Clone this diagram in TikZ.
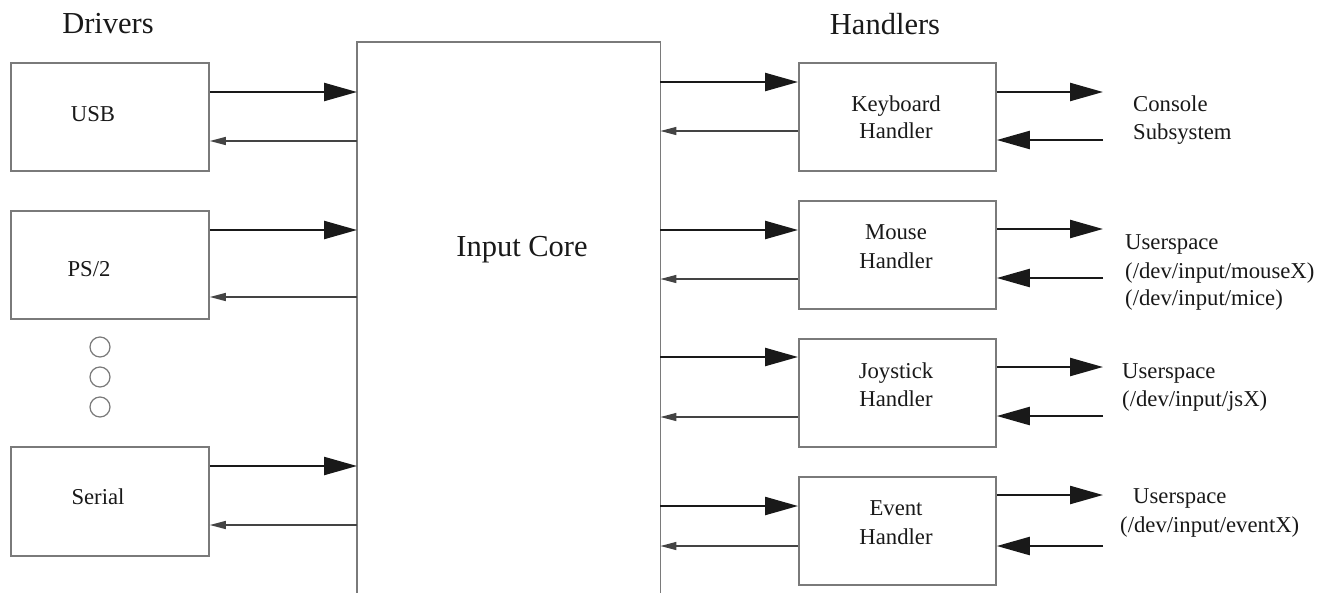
\documentclass[tikz,border=0pt]{standalone}
\usepackage{fontspec}
\setmainfont{Liberation Serif}
\usetikzlibrary{arrows.meta}
\definecolor{boxgray}{HTML}{7A7A7A}
\definecolor{thingray}{HTML}{444444}
\begin{document}
\begin{tikzpicture}[x=1pt,y=-1pt,
  blk/.style={draw=boxgray, line width=1.8pt, fill=none, inner sep=0pt, anchor=north west},
  lbl/.style={font=\fontsize{22.7}{28}\selectfont, text height=15pt, text depth=5pt, inner sep=0pt, text=black!90},
  hdr/.style={font=\fontsize{30.5}{36}\selectfont, inner sep=0pt, text=black!90},
  fwd/.style={line width=2.3pt, draw=black!90, -{Triangle[length=33pt,width=18pt]}},
  bck/.style={line width=1.4pt, draw=thingray, -{Triangle[length=16pt,width=8pt]}},
  dot/.style={circle, draw=boxgray, line width=1.2pt, minimum size=20pt, inner sep=0pt}]
\useasboundingbox (0,0) rectangle (1332,592);
\fill[white] (0,0) rectangle (1332,592);

% headers
\node[hdr] (hdrv) at (108,24) {Drivers};
\node[hdr] (hhnd) at (885,24) {Handlers};

% input core (open at bottom)
\node[minimum width=303pt, minimum height=552pt, inner sep=0pt, anchor=north west] (core) at (357,42) {};
\draw[draw=boxgray, line width=1.8pt] (core.south west) -- (core.north west) -- (core.north east) -- (core.south east);
\node[hdr] (coret) at (522,250) {Input Core};

% driver boxes
\node[blk, minimum width=198pt, minimum height=108pt] (usb) at (10,62) {};
\node[blk, minimum width=198pt, minimum height=108pt] (ps2) at (10,210) {};
\node[blk, minimum width=198pt, minimum height=109pt] (ser) at (10,446) {};
\node[lbl] (usbt) at (93,116) {USB};
\node[lbl] (ps2t) at (89,271) {PS/2};
\node[lbl] (sert) at (98,499) {Serial};

\node[dot] (d1) at (100,347) {};
\node[dot] (d2) at (100,377) {};
\node[dot] (d3) at (100,407) {};

% driver arrows
\draw[fwd] (usb.east |- 0,92) -- (core.west |- 0,92);
\draw[bck] (core.west |- 0,141) -- (usb.east |- 0,141);
\draw[fwd] (ps2.east |- 0,230) -- (core.west |- 0,230);
\draw[bck] (core.west |- 0,297) -- (ps2.east |- 0,297);
\draw[fwd] (ser.east |- 0,466) -- (core.west |- 0,466);
\draw[bck] (core.west |- 0,525) -- (ser.east |- 0,525);

% handler boxes
\node[blk, minimum width=197pt, minimum height=108pt] (kbd) at (798,62) {};
\node[blk, minimum width=197pt, minimum height=108pt] (mou) at (798,200) {};
\node[blk, minimum width=197pt, minimum height=108pt] (joy) at (798,338) {};
\node[blk, minimum width=197pt, minimum height=108pt] (evt) at (798,476) {};

\node[lbl] (kbd1) at (896,106) {Keyboard};
\node[lbl] (kbd2) at (896,133) {Handler};
\node[lbl] (mou1) at (896,234) {Mouse};
\node[lbl] (mou2) at (896,263) {Handler};
\node[lbl] (joy1) at (896,373) {Joystick};
\node[lbl] (joy2) at (896,401) {Handler};
\node[lbl] (evt1) at (896,510) {Event};
\node[lbl] (evt2) at (896,539) {Handler};

% core to handler arrows
\draw[fwd] (core.east |- 0,82) -- (kbd.west |- 0,82);
\draw[bck] (kbd.west |- 0,131) -- (core.east |- 0,131);
\draw[fwd] (core.east |- 0,230) -- (mou.west |- 0,230);
\draw[bck] (mou.west |- 0,279) -- (core.east |- 0,279);
\draw[fwd] (core.east |- 0,357) -- (joy.west |- 0,357);
\draw[bck] (joy.west |- 0,417) -- (core.east |- 0,417);
\draw[fwd] (core.east |- 0,506) -- (evt.west |- 0,506);
\draw[bck] (evt.west |- 0,546) -- (core.east |- 0,546);

% right side endpoints
\coordinate (ko) at (1103,92);  \coordinate (ki) at (1103,140);
\coordinate (mo) at (1103,229); \coordinate (mi) at (1103,278);
\coordinate (jo) at (1103,367); \coordinate (ji) at (1103,416);
\coordinate (eo) at (1103,495); \coordinate (ei) at (1103,546);

\draw[fwd] (kbd.east |- ko) -- (ko);
\draw[fwd] (ki) -- (kbd.east |- ki);
\draw[fwd] (mou.east |- mo) -- (mo);
\draw[fwd] (mi) -- (mou.east |- mi);
\draw[fwd] (joy.east |- jo) -- (jo);
\draw[fwd] (ji) -- (joy.east |- ji);
\draw[fwd] (evt.east |- eo) -- (eo);
\draw[fwd] (ei) -- (evt.east |- ei);

% right side labels
\node[lbl, anchor=west] (c1) at (1133,106) {Console};
\node[lbl, anchor=west] (c2) at (1133,134) {Subsystem};
\node[lbl, anchor=west] (m1) at (1125,244) {Userspace};
\node[lbl, anchor=west] (m2) at (1125,273) {(/dev/input/mouseX)};
\node[lbl, anchor=west] (m3) at (1125,300) {(/dev/input/mice)};
\node[lbl, anchor=west] (j1) at (1122,373) {Userspace};
\node[lbl, anchor=west] (j2) at (1122,401) {(/dev/input/jsX)};
\node[lbl, anchor=west] (e1) at (1133,498) {Userspace};
\node[lbl, anchor=west] (e2) at (1120,527) {(/dev/input/eventX)};
\end{tikzpicture}
\end{document}
